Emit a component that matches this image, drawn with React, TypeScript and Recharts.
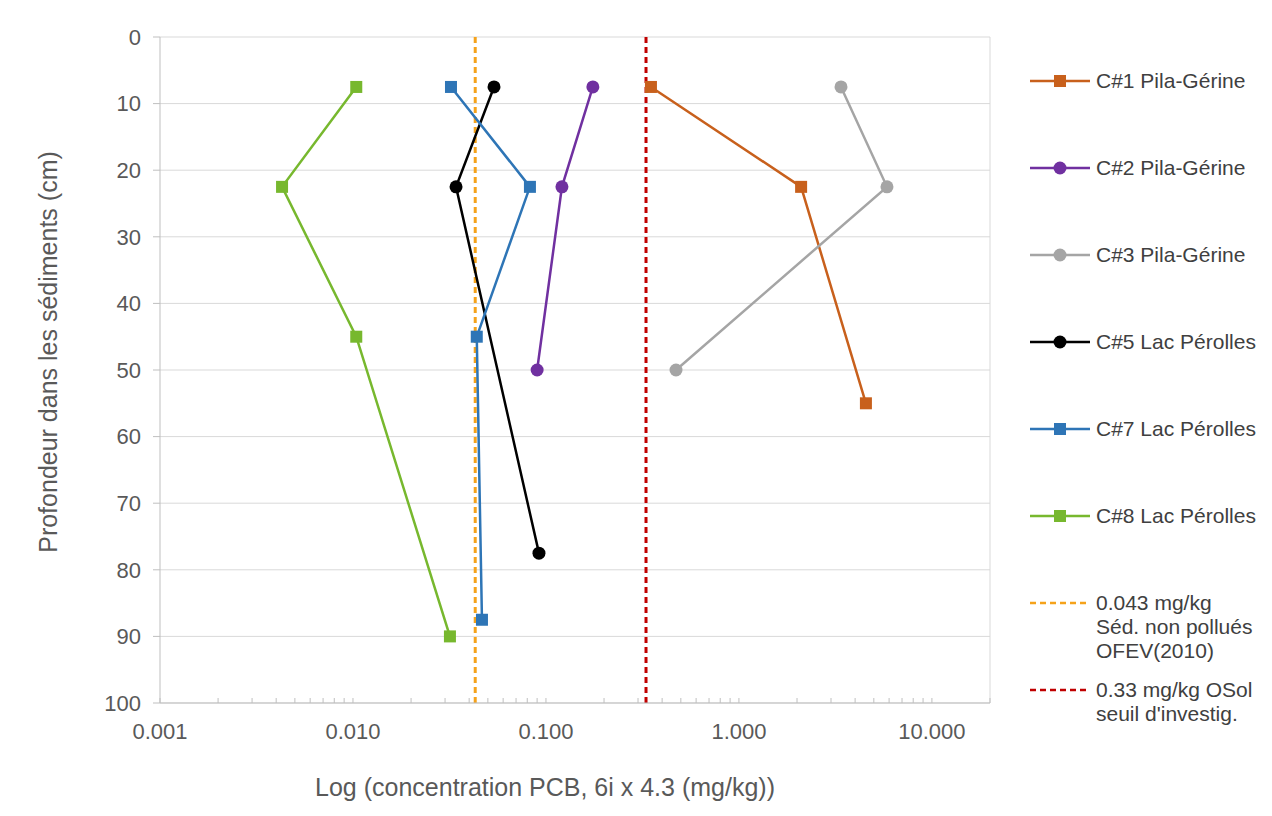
import React from "react";
import {
  CartesianGrid,
  ReferenceLine,
  Scatter,
  ScatterChart,
  XAxis,
  YAxis,
} from "recharts";

// depth (cm) / concentration (mg/kg) per core
const depthC1 = [7.5, 22.5, 55];
const concC1 = [0.35, 2.1, 4.55];
const depthC2 = [7.5, 22.5, 50];
const concC2 = [0.175, 0.121, 0.09];
const depthC3 = [7.5, 22.5, 50];
const concC3 = [3.38, 5.85, 0.472];
const depthC5 = [7.5, 22.5, 77.5];
const concC5 = [0.0538, 0.0342, 0.092];
const depthC7 = [7.5, 22.5, 45, 87.5];
const concC7 = [0.0322, 0.0826, 0.0438, 0.0466];
const depthC8 = [7.5, 22.5, 45, 90];
const concC8 = [0.0104, 0.00429, 0.0104, 0.0318];

const thresholdOfev = 0.043;
const thresholdOsol = 0.33;

const majorTicks = [0.001, 0.01, 0.1, 1, 10];
const minorTicks = [
  0.002, 0.003, 0.004, 0.005, 0.006, 0.007, 0.008, 0.009,
  0.02, 0.03, 0.04, 0.05, 0.06, 0.07, 0.08, 0.09,
  0.2, 0.3, 0.4, 0.5, 0.6, 0.7, 0.8, 0.9,
  2, 3, 4, 5, 6, 7, 8, 9, 20,
];
const depthTicks = [0, 10, 20, 30, 40, 50, 60, 70, 80, 90, 100];

const FONT = "'Liberation Sans', Arial, sans-serif";
const TEXT = "#595959";
const GRID = "#d9d9d9";
const PLOT_BOTTOM = 703;

const toPoints = (conc: number[], depth: number[]) =>
  conc.map((x, i) => ({ x, y: depth[i] }));

const SERIES = [
  { name: "C#1 Pila-Gérine", color: "#c8601c", shape: "square", data: toPoints(concC1, depthC1) },
  { name: "C#2 Pila-Gérine", color: "#7030a0", shape: "circle", data: toPoints(concC2, depthC2) },
  { name: "C#3 Pila-Gérine", color: "#a5a5a5", shape: "circle", data: toPoints(concC3, depthC3) },
  { name: "C#5 Lac Pérolles", color: "#000000", shape: "circle", data: toPoints(concC5, depthC5) },
  { name: "C#7 Lac Pérolles", color: "#2e75b6", shape: "square", data: toPoints(concC7, depthC7) },
  { name: "C#8 Lac Pérolles", color: "#77b82e", shape: "square", data: toPoints(concC8, depthC8) },
];

const LEGEND_LINES = [
  { lines: ["0.043 mg/kg", "Séd. non pollués", "OFEV(2010)"], color: "#f5a21b" },
  { lines: ["0.33 mg/kg OSol", "seuil d'investig."], color: "#c00000" },
];

function marker(shape: string, color: string) {
  return (props: any) => {
    const { cx, cy } = props;
    if (cx == null || cy == null) return <g />;
    if (shape === "square")
      return <rect x={cx - 6} y={cy - 6} width={12} height={12} fill={color} />;
    return <circle cx={cx} cy={cy} r={6.5} fill={color} />;
  };
}

function XTick(props: any) {
  const { x, payload } = props;
  const v = payload.value;
  const isMajor = majorTicks.some((m) => Math.abs(m - v) < m * 1e-6);
  return (
    <g>
      <line x1={x} x2={x} y1={PLOT_BOTTOM} y2={PLOT_BOTTOM - 5} stroke="#bfbfbf" />
      {isMajor && (
        <text x={x} y={731} textAnchor="middle" dominantBaseline="central" fill={TEXT} fontSize={22} fontFamily={FONT}>
          {v.toFixed(3)}
        </text>
      )}
    </g>
  );
}

function LegendBox() {
  const row = (i: number) => 81 + i * 87;
  return (
    <div style={{ position: "absolute", left: 1030, top: 0, width: 242, height: 816, fontFamily: FONT, fontSize: 21, color: "#404040" }}>
      {SERIES.map((s, i) => (
        <div key={s.name} style={{ position: "absolute", left: 0, top: row(i) - 12, height: 24, display: "flex", alignItems: "center", whiteSpace: "nowrap" }}>
          <svg width={66} height={24} style={{ flex: "none" }}>
            <line x1={0} x2={60} y1={12} y2={12} stroke={s.color} strokeWidth={2.5} />
            {s.shape === "square" ? (
              <rect x={24} y={6} width={12} height={12} fill={s.color} />
            ) : (
              <circle cx={30} cy={12} r={6.5} fill={s.color} />
            )}
          </svg>
          <span>{s.name}</span>
        </div>
      ))}
      {LEGEND_LINES.map((l, i) => (
        <div key={l.color} style={{ position: "absolute", left: 0, top: row(6 + i) - 12, display: "flex", alignItems: "flex-start", whiteSpace: "nowrap" }}>
          <svg width={66} height={24} style={{ flex: "none" }}>
            <line x1={0} x2={60} y1={12} y2={12} stroke={l.color} strokeWidth={2.5} strokeDasharray="6 4" />
          </svg>
          <div style={{ lineHeight: "24px" }}>
            {l.lines.map((t) => (
              <div key={t}>{t}</div>
            ))}
          </div>
        </div>
      ))}
    </div>
  );
}

export default function App() {
  return (
    <div style={{ position: "absolute", left: 0, top: 0, width: 1272, height: 816, background: "#fff" }}>
      <ScatterChart
        width={1272}
        height={816}
        margin={{ top: 37, right: 282, left: 100, bottom: 73 }}
      >
        <CartesianGrid horizontal vertical={false} stroke={GRID} />
        <XAxis
          type="number"
          dataKey="x"
          scale="log"
          domain={[0.001, 20]}
          allowDataOverflow
          ticks={[...majorTicks, ...minorTicks].sort((a, b) => a - b)}
          interval={0}
          tick={<XTick />}
          tickLine={false}
          axisLine={{ stroke: "#bfbfbf" }}
          height={40}
          label={{
            content: () => (
              <text x={545} y={787} textAnchor="middle" dominantBaseline="central" fill={TEXT} fontSize={25} fontFamily={FONT}>
                Log (concentration PCB, 6i x 4.3 (mg/kg))
              </text>
            ),
          }}
        />
        <YAxis
          type="number"
          dataKey="y"
          domain={[0, 100]}
          reversed
          ticks={depthTicks}
          interval={0}
          width={60}
          tickSize={7}
          tickMargin={12}
          tickLine={{ stroke: "#bfbfbf" }}
          axisLine={{ stroke: "#bfbfbf" }}
          tick={{ fill: TEXT, fontSize: 22, fontFamily: FONT }}
          label={{
            content: () => (
              <text
                x={48}
                y={352}
                transform="rotate(-90 48 352)"
                textAnchor="middle"
                dominantBaseline="central"
                fill={TEXT}
                fontSize={25}
                fontFamily={FONT}
              >
                Profondeur dans les sédiments (cm)
              </text>
            ),
          }}
        />
        <ReferenceLine x={20} stroke={GRID} strokeWidth={1} />
        <ReferenceLine x={thresholdOfev} stroke="#f5a21b" strokeWidth={3} strokeDasharray="6 4" />
        <ReferenceLine x={thresholdOsol} stroke="#c00000" strokeWidth={3} strokeDasharray="6 4" />
        {SERIES.map((s) => (
          <Scatter
            key={s.name}
            name={s.name}
            data={s.data}
            fill={s.color}
            line={{ stroke: s.color, strokeWidth: 2.5 }}
            lineType="joint"
            shape={marker(s.shape, s.color)}
            isAnimationActive={false}
          />
        ))}
      </ScatterChart>
      <LegendBox />
    </div>
  );
}
